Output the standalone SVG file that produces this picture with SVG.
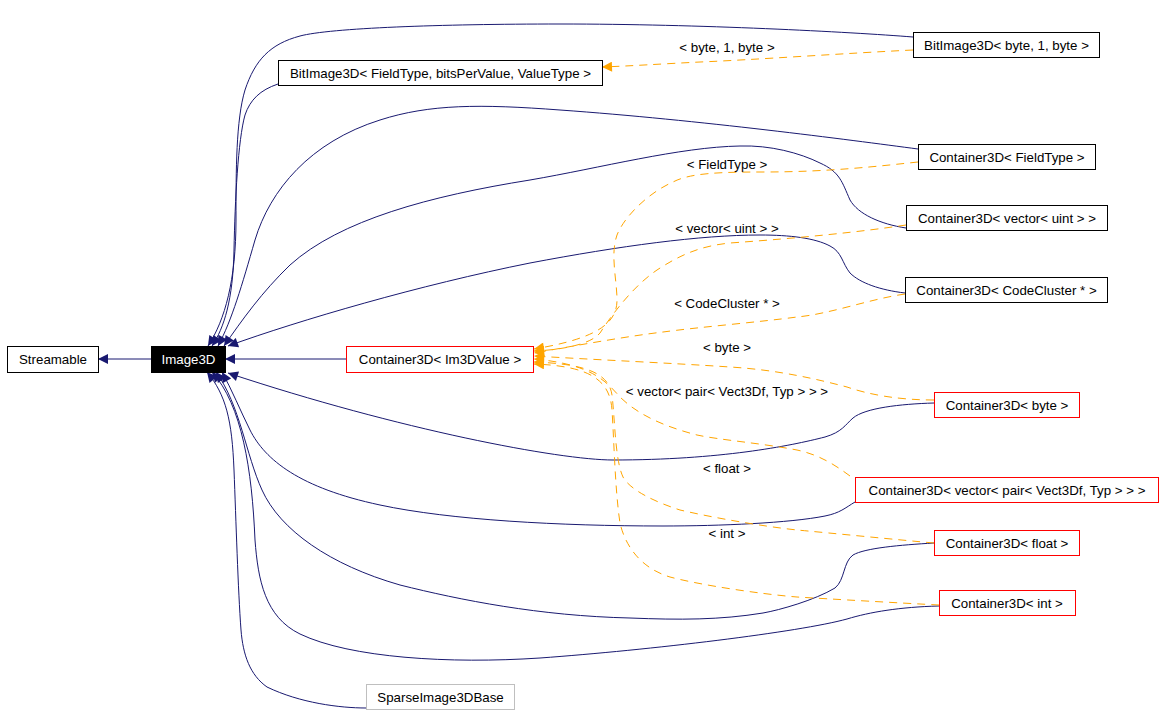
<svg xmlns="http://www.w3.org/2000/svg" width="1164" height="718" viewBox="0 0 1164 718">
<style>
text{font-family:"Liberation Sans",Arial,sans-serif;font-size:13.3px;fill:#000;text-anchor:middle}
.n rect{fill:#fff;stroke:#000;stroke-width:1}
.n.red rect{stroke:#ff0000}
.n.gray rect{stroke:#bfbfbf}
.n.blk rect{fill:#000}
.n.blk text{fill:#fff}
.e{fill:none;stroke:#191970;stroke-width:1;marker-end:url(#ab)}
.t{fill:none;stroke:#ffa500;stroke-width:1;stroke-dasharray:8,6;marker-end:url(#ao)}
</style>
<defs>
<marker id="ab" viewBox="0 0 10 10" refX="10" refY="5" markerWidth="12" markerHeight="10" markerUnits="userSpaceOnUse" orient="auto"><path d="M0,0L10,5L0,10z" fill="#191970"/></marker>
<marker id="ao" viewBox="0 0 10 10" refX="10" refY="5" markerWidth="12" markerHeight="10" markerUnits="userSpaceOnUse" orient="auto"><path d="M0,0L10,5L0,10z" fill="#ffa500"/></marker>
</defs>
<rect width="1164" height="718" fill="#fff"/>
<g id="connectors">
<path class="e" d="M151,359L98,359"/>
<path class="e" d="M346,359L225,359"/>
<path class="e" d="M913,37C850,32 700,24 560,24C440,24 330,28 300,36C270,44 255,60 245,90C236,120 236,170 236,220C236,280 225,320 208,346"/>
<path class="e" d="M278,84C260,90 250,100 245,115C238,140 235,200 234,250C233,300 224,328 212,346"/>
<path class="e" d="M918,149C850,140 700,120 560,110C480,104 430,104 380,120C310,142 270,190 255,240C242,285 232,320 218,346"/>
<path class="e" d="M906,228C880,224 858,214 850,200C842,182 840,172 820,163C800,153 770,145 740,146C680,147 600,168 530,180C430,196 340,220 290,265C262,292 242,320 224,346"/>
<path class="e" d="M905,293C880,290 860,283 850,273C842,263 842,252 830,246C815,238 790,235 760,235C700,235 620,246 530,263C420,285 300,320 228,346"/>
<path class="e" d="M934,403C900,404 865,408 853,418C845,425 842,432 825,437C790,446 720,460 613,460C560,460 400,430 228,373"/>
<path class="e" d="M855,502C845,508 840,513 825,516C790,523 720,526 663,526C560,526 450,520 380,505C300,488 265,460 250,430C240,410 232,390 222,372"/>
<path class="e" d="M934,543C900,545 865,548 853,555C843,562 845,580 835,588C815,600 780,610 763,613C720,620 680,620 630,618C540,616 460,600 400,585C330,565 280,530 262,490C246,455 240,405 216,372"/>
<path class="e" d="M939,606C900,607 870,612 847,619C800,632 650,650 540,658C450,664 350,658 300,634C265,617 258,580 255,540C252,470 242,405 212,372"/>
<path class="e" d="M366,708C340,708 300,703 267,687C250,675 243,655 241,630C238,590 236,520 234,470C232,420 226,395 207,372"/>
<path class="t" d="M913,50C850,53 750,60 700,62C660,64 630,66 602,67"/>
<path class="t" d="M918,162C880,166 830,172 763,172C720,172 690,173 673,182C650,192 625,215 617,235C610,255 617,280 617,300C617,322 600,338 534,349"/>
<path class="t" d="M906,225C860,232 800,238 730,243C700,246 680,255 657,270C635,285 615,310 600,333C590,345 560,350 534,351"/>
<path class="t" d="M905,294C870,299 830,314 797,317C760,322 700,327 663,332C630,336 590,343 534,353"/>
<path class="t" d="M934,400C900,400 870,395 847,387C820,380 780,370 730,367C670,363 600,360 534,356"/>
<path class="t" d="M850,476C835,465 820,455 797,450C760,443 720,440 697,435C670,428 640,417 620,397C605,380 590,364 534,359"/>
<path class="t" d="M934,543C900,540 830,533 797,530C760,526 710,517 680,510C655,502 630,490 623,477C615,460 615,420 612,395C609,375 590,364 534,362"/>
<path class="t" d="M939,605C900,603 830,599 797,597C760,594 700,585 670,577C640,568 625,545 620,523C615,490 614,440 612,410C610,380 590,366 534,364"/>
<text x="727" y="52">&lt; byte, 1, byte &gt;</text>
<text x="727" y="169">&lt; FieldType &gt;</text>
<text x="727" y="233">&lt; vector&lt; uint &gt; &gt;</text>
<text x="727" y="308">&lt; CodeCluster * &gt;</text>
<text x="727" y="352">&lt; byte &gt;</text>
<text x="727" y="396">&lt; vector&lt; pair&lt; Vect3Df, Typ &gt; &gt; &gt;</text>
<text x="727" y="473">&lt; float &gt;</text>
<text x="727" y="538">&lt; int &gt;</text>
</g>
<g id="streamable" class="n"><rect x="7.5" y="346.5" width="91" height="26"/><text x="53" y="364">Streamable</text></g>
<g id="image3d" class="n blk"><rect x="151.5" y="346.5" width="74" height="26"/><text x="188.5" y="364">Image3D</text></g>
<g id="c3d-im3dvalue" class="n red"><rect x="346.5" y="346.5" width="187" height="26"/><text x="440" y="364">Container3D&lt; Im3DValue &gt;</text></g>
<g id="bitimage3d-tmpl" class="n"><rect x="278.5" y="60.5" width="324" height="25"/><text x="440.5" y="77.5">BitImage3D&lt; FieldType, bitsPerValue, ValueType &gt;</text></g>
<g id="bitimage3d-byte" class="n"><rect x="913.5" y="32.5" width="186" height="25"/><text x="1006.5" y="49.5">BitImage3D&lt; byte, 1, byte &gt;</text></g>
<g id="c3d-fieldtype" class="n"><rect x="918.5" y="144.5" width="177" height="25"/><text x="1007" y="161.5">Container3D&lt; FieldType &gt;</text></g>
<g id="c3d-vector-uint" class="n"><rect x="906.5" y="205.5" width="201" height="25"/><text x="1007" y="222.5">Container3D&lt; vector&lt; uint &gt; &gt;</text></g>
<g id="c3d-codecluster" class="n"><rect x="905.5" y="277.5" width="202" height="25"/><text x="1006.5" y="294.5">Container3D&lt; CodeCluster * &gt;</text></g>
<g id="c3d-byte" class="n red"><rect x="934.5" y="392.5" width="145" height="25"/><text x="1007" y="409.5">Container3D&lt; byte &gt;</text></g>
<g id="c3d-vector-pair" class="n red"><rect x="855.5" y="477.5" width="303" height="25"/><text x="1007" y="494.5">Container3D&lt; vector&lt; pair&lt; Vect3Df, Typ &gt; &gt; &gt;</text></g>
<g id="c3d-float" class="n red"><rect x="934.5" y="530.5" width="145" height="25"/><text x="1007" y="547.5">Container3D&lt; float &gt;</text></g>
<g id="c3d-int" class="n red"><rect x="939.5" y="590.5" width="136" height="25"/><text x="1007" y="607.5">Container3D&lt; int &gt;</text></g>
<g id="sparseimage3dbase" class="n gray"><rect x="366.5" y="684.5" width="148" height="25"/><text x="440.5" y="701.5">SparseImage3DBase</text></g>
</svg>
